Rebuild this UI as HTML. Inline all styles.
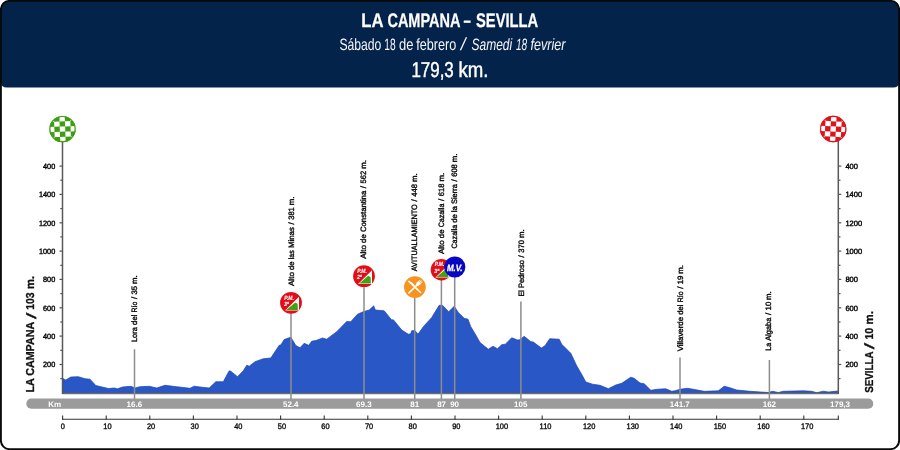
<!DOCTYPE html>
<html lang="es"><head><meta charset="utf-8"><title>La Campana - Sevilla</title>
<style>html,body{margin:0;padding:0;background:#fff}body{width:900px;height:450px;overflow:hidden}svg{display:block}text{font-family:"Liberation Sans",sans-serif;text-rendering:geometricPrecision}</style></head><body>
<svg width="900" height="450" viewBox="0 0 900 450">
<defs>
<clipPath id="cg"><circle cx="0" cy="0" r="13.2"/></clipPath>
</defs>
<rect x="0" y="0" width="900" height="450" fill="#fff"/>
<path d="M1 9 Q1 1 9 1 L891 1 Q899 1 899 9 L899 82.5 Q899 87.6 893 87.6 L7 87.6 Q1 87.6 1 82.5 Z" fill="#04234a"/>
<rect x="0.9" y="0.9" width="898.2" height="448.2" rx="8.5" ry="8.5" fill="none" stroke="#0a0a0a" stroke-width="1.9"/>
<text y="27" font-size="19.6" font-weight="bold" fill="#fff" stroke="#fff" stroke-width="0.25"><tspan x="361.3" textLength="21.6" lengthAdjust="spacingAndGlyphs">LA</tspan> <tspan x="387.4" textLength="72.6" lengthAdjust="spacingAndGlyphs">CAMPANA</tspan> <tspan x="463.6" textLength="7.4" lengthAdjust="spacingAndGlyphs">–</tspan> <tspan x="476.0" textLength="62.2" lengthAdjust="spacingAndGlyphs">SEVILLA</tspan></text>
<text y="50" font-size="16.4" fill="#f4f6fa"><tspan x="339.4" textLength="42.0" lengthAdjust="spacingAndGlyphs">Sábado</tspan> <tspan x="384.2" textLength="11.4" lengthAdjust="spacingAndGlyphs">18</tspan> <tspan x="399.0" textLength="14.4" lengthAdjust="spacingAndGlyphs">de</tspan> <tspan x="416.2" textLength="40.0" lengthAdjust="spacingAndGlyphs">febrero</tspan> <tspan x="460.8" font-size="17.5" font-style="italic">/</tspan> <tspan x="471.6" textLength="40.6" lengthAdjust="spacingAndGlyphs" font-style="italic">Samedi</tspan> <tspan x="516.0" textLength="11.2" lengthAdjust="spacingAndGlyphs" font-style="italic">18</tspan> <tspan x="530.4" textLength="35.0" lengthAdjust="spacingAndGlyphs" font-style="italic">fevrier</tspan></text>
<text y="77" font-size="21.6" fill="#fff" stroke="#fff" stroke-width="0.45"><tspan x="411.4" textLength="42.4" lengthAdjust="spacingAndGlyphs">179,3</tspan> <tspan x="458.4" textLength="30.0" lengthAdjust="spacingAndGlyphs">km.</tspan></text>
<path d="M62.5 393.0 L63.0 378.7 L65.8 380.0 L70.8 377.0 L78.3 376.7 L85.0 378.7 L90.0 379.2 L95.8 385.5 L108.3 388.5 L114.2 388.0 L117.5 388.8 L122.5 387.0 L130.8 386.3 L135.0 388.0 L140.0 386.7 L149.2 386.3 L156.7 388.0 L165.0 385.3 L176.7 386.7 L190.0 388.3 L194.2 386.2 L200.0 387.0 L209.2 388.0 L215.8 381.7 L223.3 381.7 L229.2 370.8 L230.8 371.3 L237.5 376.7 L243.3 370.8 L246.7 365.3 L249.2 366.2 L255.0 361.7 L263.3 358.7 L270.8 358.0 L279.2 345.3 L280.8 345.0 L284.2 339.5 L290.8 337.2 L295.8 345.5 L300.0 347.8 L304.2 343.3 L308.7 345.3 L311.7 341.3 L316.7 340.3 L322.5 338.0 L326.7 339.2 L336.7 331.7 L346.7 321.5 L350.8 321.7 L357.5 314.2 L363.3 311.7 L369.2 310.0 L373.7 305.8 L375.3 310.0 L384.2 310.8 L391.7 320.0 L393.3 319.7 L398.3 325.8 L401.7 330.0 L408.3 334.2 L410.8 333.7 L411.7 330.8 L415.0 330.5 L418.0 334.2 L423.3 326.7 L431.7 317.5 L439.2 305.3 L442.5 305.3 L448.7 311.7 L454.2 306.3 L458.3 312.5 L464.2 318.3 L468.0 319.2 L470.8 326.7 L475.8 335.0 L480.0 342.5 L488.3 349.2 L493.0 346.3 L497.5 348.7 L501.7 344.7 L505.3 344.2 L511.7 337.8 L517.5 340.0 L520.0 339.7 L524.2 336.3 L530.8 341.7 L533.3 342.0 L541.3 348.0 L545.0 345.8 L549.7 338.7 L559.2 339.2 L561.7 344.2 L570.8 353.3 L576.7 365.8 L582.5 375.8 L585.8 382.0 L592.5 384.2 L600.0 385.3 L608.3 388.7 L615.8 385.0 L621.7 383.3 L630.8 377.2 L634.2 378.3 L640.0 383.0 L644.2 383.7 L650.8 390.3 L657.5 389.2 L665.8 388.8 L671.7 391.3 L675.0 390.8 L680.0 389.2 L687.5 388.3 L695.8 389.7 L704.2 391.3 L718.3 390.8 L724.2 386.3 L729.2 387.5 L736.7 390.0 L750.0 391.3 L768.3 392.5 L772.5 391.3 L778.3 392.5 L783.3 391.3 L803.3 390.8 L811.7 391.3 L816.7 392.7 L823.3 391.2 L828.3 392.0 L837.8 391.0 L838.3 393.0 Z" fill="#2a57c6" stroke="#1a40b6" stroke-width="0.7" stroke-linejoin="round"/>
<line x1="62.5" y1="393.5" x2="838.3" y2="393.5" stroke="#6e6e6e" stroke-width="1.4"/>
<line x1="62.5" y1="141" x2="62.5" y2="394" stroke="#585858" stroke-width="1.5"/>
<line x1="838.3" y1="141" x2="838.3" y2="394" stroke="#585858" stroke-width="1.5"/>
<line x1="60.3" y1="378.6" x2="62.5" y2="378.6" stroke="#555" stroke-width="1.2"/>
<line x1="838.3" y1="378.6" x2="840.5" y2="378.6" stroke="#555" stroke-width="1.2"/>
<line x1="59.5" y1="364.5" x2="62.5" y2="364.5" stroke="#555" stroke-width="1.2"/>
<line x1="838.3" y1="364.5" x2="841.3" y2="364.5" stroke="#555" stroke-width="1.2"/>
<text transform="translate(55.2 367.3) scale(0.95 1)" text-anchor="end" font-size="7.7" fill="#050505" stroke="#050505" stroke-width="0.4">200</text>
<text transform="translate(845.4 367.3) scale(0.98 1)" font-size="7.7" fill="#050505" stroke="#050505" stroke-width="0.4">200</text>
<line x1="60.3" y1="350.3" x2="62.5" y2="350.3" stroke="#555" stroke-width="1.2"/>
<line x1="838.3" y1="350.3" x2="840.5" y2="350.3" stroke="#555" stroke-width="1.2"/>
<line x1="59.5" y1="336.1" x2="62.5" y2="336.1" stroke="#555" stroke-width="1.2"/>
<line x1="838.3" y1="336.1" x2="841.3" y2="336.1" stroke="#555" stroke-width="1.2"/>
<text transform="translate(55.2 338.9) scale(0.95 1)" text-anchor="end" font-size="7.7" fill="#050505" stroke="#050505" stroke-width="0.4">400</text>
<text transform="translate(845.4 338.9) scale(0.98 1)" font-size="7.7" fill="#050505" stroke="#050505" stroke-width="0.4">400</text>
<line x1="60.3" y1="322.0" x2="62.5" y2="322.0" stroke="#555" stroke-width="1.2"/>
<line x1="838.3" y1="322.0" x2="840.5" y2="322.0" stroke="#555" stroke-width="1.2"/>
<line x1="59.5" y1="307.8" x2="62.5" y2="307.8" stroke="#555" stroke-width="1.2"/>
<line x1="838.3" y1="307.8" x2="841.3" y2="307.8" stroke="#555" stroke-width="1.2"/>
<text transform="translate(55.2 310.6) scale(0.95 1)" text-anchor="end" font-size="7.7" fill="#050505" stroke="#050505" stroke-width="0.4">600</text>
<text transform="translate(845.4 310.6) scale(0.98 1)" font-size="7.7" fill="#050505" stroke="#050505" stroke-width="0.4">600</text>
<line x1="60.3" y1="293.6" x2="62.5" y2="293.6" stroke="#555" stroke-width="1.2"/>
<line x1="838.3" y1="293.6" x2="840.5" y2="293.6" stroke="#555" stroke-width="1.2"/>
<line x1="59.5" y1="279.4" x2="62.5" y2="279.4" stroke="#555" stroke-width="1.2"/>
<line x1="838.3" y1="279.4" x2="841.3" y2="279.4" stroke="#555" stroke-width="1.2"/>
<text transform="translate(55.2 282.2) scale(0.95 1)" text-anchor="end" font-size="7.7" fill="#050505" stroke="#050505" stroke-width="0.4">800</text>
<text transform="translate(845.4 282.2) scale(0.98 1)" font-size="7.7" fill="#050505" stroke="#050505" stroke-width="0.4">800</text>
<line x1="60.3" y1="265.3" x2="62.5" y2="265.3" stroke="#555" stroke-width="1.2"/>
<line x1="838.3" y1="265.3" x2="840.5" y2="265.3" stroke="#555" stroke-width="1.2"/>
<line x1="59.5" y1="251.1" x2="62.5" y2="251.1" stroke="#555" stroke-width="1.2"/>
<line x1="838.3" y1="251.1" x2="841.3" y2="251.1" stroke="#555" stroke-width="1.2"/>
<text transform="translate(55.2 253.9) scale(0.95 1)" text-anchor="end" font-size="7.7" fill="#050505" stroke="#050505" stroke-width="0.4">1000</text>
<text transform="translate(845.4 253.9) scale(0.98 1)" font-size="7.7" fill="#050505" stroke="#050505" stroke-width="0.4">1000</text>
<line x1="60.3" y1="236.9" x2="62.5" y2="236.9" stroke="#555" stroke-width="1.2"/>
<line x1="838.3" y1="236.9" x2="840.5" y2="236.9" stroke="#555" stroke-width="1.2"/>
<line x1="59.5" y1="222.8" x2="62.5" y2="222.8" stroke="#555" stroke-width="1.2"/>
<line x1="838.3" y1="222.8" x2="841.3" y2="222.8" stroke="#555" stroke-width="1.2"/>
<text transform="translate(55.2 225.6) scale(0.95 1)" text-anchor="end" font-size="7.7" fill="#050505" stroke="#050505" stroke-width="0.4">1200</text>
<text transform="translate(845.4 225.6) scale(0.98 1)" font-size="7.7" fill="#050505" stroke="#050505" stroke-width="0.4">1200</text>
<line x1="60.3" y1="208.6" x2="62.5" y2="208.6" stroke="#555" stroke-width="1.2"/>
<line x1="838.3" y1="208.6" x2="840.5" y2="208.6" stroke="#555" stroke-width="1.2"/>
<line x1="59.5" y1="194.4" x2="62.5" y2="194.4" stroke="#555" stroke-width="1.2"/>
<line x1="838.3" y1="194.4" x2="841.3" y2="194.4" stroke="#555" stroke-width="1.2"/>
<text transform="translate(55.2 197.2) scale(0.95 1)" text-anchor="end" font-size="7.7" fill="#050505" stroke="#050505" stroke-width="0.4">1400</text>
<text transform="translate(845.4 197.2) scale(0.98 1)" font-size="7.7" fill="#050505" stroke="#050505" stroke-width="0.4">1400</text>
<line x1="60.3" y1="180.2" x2="62.5" y2="180.2" stroke="#555" stroke-width="1.2"/>
<line x1="838.3" y1="180.2" x2="840.5" y2="180.2" stroke="#555" stroke-width="1.2"/>
<line x1="59.5" y1="166.1" x2="62.5" y2="166.1" stroke="#555" stroke-width="1.2"/>
<line x1="838.3" y1="166.1" x2="841.3" y2="166.1" stroke="#555" stroke-width="1.2"/>
<text transform="translate(55.2 168.9) scale(0.95 1)" text-anchor="end" font-size="7.7" fill="#050505" stroke="#050505" stroke-width="0.4">400</text>
<text transform="translate(845.4 168.9) scale(0.98 1)" font-size="7.7" fill="#050505" stroke="#050505" stroke-width="0.4">400</text>
<line x1="134.5" y1="349.2" x2="134.5" y2="399.5" stroke="#8c8c8c" stroke-width="1.5"/>
<line x1="291.0" y1="312.0" x2="291.0" y2="399.5" stroke="#8c8c8c" stroke-width="1.5"/>
<line x1="364.0" y1="286.0" x2="364.0" y2="399.5" stroke="#8c8c8c" stroke-width="1.5"/>
<line x1="414.7" y1="296.0" x2="414.7" y2="399.5" stroke="#8c8c8c" stroke-width="1.5"/>
<line x1="441.4" y1="279.0" x2="441.4" y2="399.5" stroke="#8c8c8c" stroke-width="1.5"/>
<line x1="454.7" y1="277.0" x2="454.7" y2="399.5" stroke="#8c8c8c" stroke-width="1.5"/>
<line x1="520.9" y1="301.4" x2="520.9" y2="399.5" stroke="#8c8c8c" stroke-width="1.5"/>
<line x1="680.0" y1="357.5" x2="680.0" y2="399.5" stroke="#8c8c8c" stroke-width="1.5"/>
<line x1="769.4" y1="360.0" x2="769.4" y2="399.5" stroke="#8c8c8c" stroke-width="1.5"/>
<text transform="translate(136.7 342.1) rotate(-90)" font-size="7.8" fill="#050505" stroke="#050505" stroke-width="0.35"><tspan x="0.1" textLength="14.8" lengthAdjust="spacingAndGlyphs">Lora</tspan> <tspan x="17.2" textLength="10.3" lengthAdjust="spacingAndGlyphs">del</tspan> <tspan x="29.7" textLength="10.7" lengthAdjust="spacingAndGlyphs">Río</tspan> <tspan x="43.1">/</tspan> <tspan x="47.6">35</tspan> <tspan x="58.2">m.</tspan></text>
<text transform="translate(293.8 286.1) rotate(-90)" font-size="7.8" fill="#050505" stroke="#050505" stroke-width="0.35"><tspan x="0.1" textLength="13.9" lengthAdjust="spacingAndGlyphs">Alto</tspan> <tspan x="16.0">de</tspan> <tspan x="26.9" textLength="9.0" lengthAdjust="spacingAndGlyphs">las</tspan> <tspan x="38.1" textLength="20.8" lengthAdjust="spacingAndGlyphs">Minas</tspan> <tspan x="61.5">/</tspan> <tspan x="66.3" textLength="12.6" lengthAdjust="spacingAndGlyphs">381</tspan> <tspan x="80.9">m.</tspan></text>
<text transform="translate(366.2 258.9) rotate(-90)" font-size="7.8" fill="#050505" stroke="#050505" stroke-width="0.35"><tspan x="0.1" textLength="13.9" lengthAdjust="spacingAndGlyphs">Alto</tspan> <tspan x="16.0">de</tspan> <tspan x="26.9" textLength="41.2" lengthAdjust="spacingAndGlyphs">Constantina</tspan> <tspan x="70.7">/</tspan> <tspan x="75.5" textLength="12.6" lengthAdjust="spacingAndGlyphs">562</tspan> <tspan x="90.1">m.</tspan></text>
<text transform="translate(416.9 271.3) rotate(-90)" font-size="7.8" fill="#050505" stroke="#050505" stroke-width="0.35"><tspan x="0.1" textLength="67.0" lengthAdjust="spacingAndGlyphs">AVITUALLAMIENTO</tspan> <tspan x="69.7">/</tspan> <tspan x="74.6" textLength="12.6" lengthAdjust="spacingAndGlyphs">448</tspan> <tspan x="89.2">m.</tspan></text>
<text transform="translate(443.6 254.2) rotate(-90)" font-size="7.8" fill="#050505" stroke="#050505" stroke-width="0.35"><tspan x="0.1" textLength="13.9" lengthAdjust="spacingAndGlyphs">Alto</tspan> <tspan x="16.0">de</tspan> <tspan x="26.9" textLength="23.7" lengthAdjust="spacingAndGlyphs">Cazalla</tspan> <tspan x="53.2">/</tspan> <tspan x="58.0" textLength="12.6" lengthAdjust="spacingAndGlyphs">618</tspan> <tspan x="72.6">m.</tspan></text>
<text transform="translate(456.9 248.6) rotate(-90)" font-size="7.8" fill="#050505" stroke="#050505" stroke-width="0.35"><tspan x="0.1" textLength="23.7" lengthAdjust="spacingAndGlyphs">Cazalla</tspan> <tspan x="25.8">de</tspan> <tspan x="36.4">la</tspan> <tspan x="44.6" textLength="19.8" lengthAdjust="spacingAndGlyphs">Sierra</tspan> <tspan x="67.0">/</tspan> <tspan x="71.8" textLength="12.6" lengthAdjust="spacingAndGlyphs">608</tspan> <tspan x="86.4">m.</tspan></text>
<text transform="translate(523.7 296.3) rotate(-90)" font-size="7.8" fill="#050505" stroke="#050505" stroke-width="0.35"><tspan x="-0.2" textLength="6.4" lengthAdjust="spacingAndGlyphs">El</tspan> <tspan x="8.2" textLength="28.0" lengthAdjust="spacingAndGlyphs">Pedroso</tspan> <tspan x="38.8">/</tspan> <tspan x="43.6" textLength="12.6" lengthAdjust="spacingAndGlyphs">370</tspan> <tspan x="58.2">m.</tspan></text>
<text transform="translate(683.1 351.3) rotate(-90)" font-size="7.8" fill="#050505" stroke="#050505" stroke-width="0.35"><tspan x="0.1" textLength="34.2" lengthAdjust="spacingAndGlyphs">Villaverde</tspan> <tspan x="36.5" textLength="10.3" lengthAdjust="spacingAndGlyphs">del</tspan> <tspan x="49.1" textLength="10.7" lengthAdjust="spacingAndGlyphs">Río</tspan> <tspan x="62.5">/</tspan> <tspan x="67.0">19</tspan> <tspan x="77.6">m.</tspan></text>
<text transform="translate(771.1 350.5) rotate(-90)" font-size="7.8" fill="#050505" stroke="#050505" stroke-width="0.35"><tspan x="-0.2" textLength="7.9" lengthAdjust="spacingAndGlyphs">La</tspan> <tspan x="9.7" textLength="23.2" lengthAdjust="spacingAndGlyphs">Algaba</tspan> <tspan x="35.5">/</tspan> <tspan x="40.1">10</tspan> <tspan x="50.6">m.</tspan></text>
<rect x="26.3" y="398.6" width="847" height="10.1" rx="5.05" fill="#9b9b9b"/>
<text x="54.6" y="406.5" text-anchor="middle" font-size="8" font-weight="bold" fill="#fff">Km</text>
<text x="134.4" y="406.5" text-anchor="middle" font-size="8" font-weight="bold" fill="#fff">16.6</text>
<text x="290.8" y="406.5" text-anchor="middle" font-size="8" font-weight="bold" fill="#fff">52.4</text>
<text x="363.9" y="406.5" text-anchor="middle" font-size="8" font-weight="bold" fill="#fff">69.3</text>
<text x="414.7" y="406.5" text-anchor="middle" font-size="8" font-weight="bold" fill="#fff">81</text>
<text x="441.6" y="406.5" text-anchor="middle" font-size="8" font-weight="bold" fill="#fff">87</text>
<text x="454.6" y="406.5" text-anchor="middle" font-size="8" font-weight="bold" fill="#fff">90</text>
<text x="520.8" y="406.5" text-anchor="middle" font-size="8" font-weight="bold" fill="#fff">105</text>
<text x="679.8" y="406.5" text-anchor="middle" font-size="8" font-weight="bold" fill="#fff">141.7</text>
<text x="769.4" y="406.5" text-anchor="middle" font-size="8" font-weight="bold" fill="#fff">162</text>
<text x="840.0" y="406.5" text-anchor="middle" font-size="8" font-weight="bold" fill="#fff">179,3</text>
<line x1="62.1" y1="419.3" x2="838.9" y2="419.3" stroke="#333" stroke-width="1.1"/>
<line x1="62.6" y1="415.4" x2="62.6" y2="419.8" stroke="#333" stroke-width="1.1"/>
<text transform="translate(62.8 428.8) scale(0.93 1)" text-anchor="middle" font-size="8" fill="#0a0a0a" stroke="#0a0a0a" stroke-width="0.35">0</text>
<line x1="106.2" y1="415.4" x2="106.2" y2="419.8" stroke="#333" stroke-width="1.1"/>
<text transform="translate(107.5 428.8) scale(0.93 1)" text-anchor="middle" font-size="8" fill="#0a0a0a" stroke="#0a0a0a" stroke-width="0.35">10</text>
<line x1="149.8" y1="415.4" x2="149.8" y2="419.8" stroke="#333" stroke-width="1.1"/>
<text transform="translate(151.1 428.8) scale(0.93 1)" text-anchor="middle" font-size="8" fill="#0a0a0a" stroke="#0a0a0a" stroke-width="0.35">20</text>
<line x1="193.4" y1="415.4" x2="193.4" y2="419.8" stroke="#333" stroke-width="1.1"/>
<text transform="translate(194.7 428.8) scale(0.93 1)" text-anchor="middle" font-size="8" fill="#0a0a0a" stroke="#0a0a0a" stroke-width="0.35">30</text>
<line x1="237.0" y1="415.4" x2="237.0" y2="419.8" stroke="#333" stroke-width="1.1"/>
<text transform="translate(238.3 428.8) scale(0.93 1)" text-anchor="middle" font-size="8" fill="#0a0a0a" stroke="#0a0a0a" stroke-width="0.35">40</text>
<line x1="280.6" y1="415.4" x2="280.6" y2="419.8" stroke="#333" stroke-width="1.1"/>
<text transform="translate(281.9 428.8) scale(0.93 1)" text-anchor="middle" font-size="8" fill="#0a0a0a" stroke="#0a0a0a" stroke-width="0.35">50</text>
<line x1="324.2" y1="415.4" x2="324.2" y2="419.8" stroke="#333" stroke-width="1.1"/>
<text transform="translate(325.5 428.8) scale(0.93 1)" text-anchor="middle" font-size="8" fill="#0a0a0a" stroke="#0a0a0a" stroke-width="0.35">60</text>
<line x1="367.8" y1="415.4" x2="367.8" y2="419.8" stroke="#333" stroke-width="1.1"/>
<text transform="translate(369.1 428.8) scale(0.93 1)" text-anchor="middle" font-size="8" fill="#0a0a0a" stroke="#0a0a0a" stroke-width="0.35">70</text>
<line x1="411.4" y1="415.4" x2="411.4" y2="419.8" stroke="#333" stroke-width="1.1"/>
<text transform="translate(412.7 428.8) scale(0.93 1)" text-anchor="middle" font-size="8" fill="#0a0a0a" stroke="#0a0a0a" stroke-width="0.35">80</text>
<line x1="455.0" y1="415.4" x2="455.0" y2="419.8" stroke="#333" stroke-width="1.1"/>
<text transform="translate(456.3 428.8) scale(0.93 1)" text-anchor="middle" font-size="8" fill="#0a0a0a" stroke="#0a0a0a" stroke-width="0.35">90</text>
<line x1="498.6" y1="415.4" x2="498.6" y2="419.8" stroke="#333" stroke-width="1.1"/>
<text transform="translate(501.9 428.8) scale(0.93 1)" text-anchor="middle" font-size="8" fill="#0a0a0a" stroke="#0a0a0a" stroke-width="0.35">100</text>
<line x1="542.2" y1="415.4" x2="542.2" y2="419.8" stroke="#333" stroke-width="1.1"/>
<text transform="translate(545.5 428.8) scale(0.93 1)" text-anchor="middle" font-size="8" fill="#0a0a0a" stroke="#0a0a0a" stroke-width="0.35">110</text>
<line x1="585.8" y1="415.4" x2="585.8" y2="419.8" stroke="#333" stroke-width="1.1"/>
<text transform="translate(589.1 428.8) scale(0.93 1)" text-anchor="middle" font-size="8" fill="#0a0a0a" stroke="#0a0a0a" stroke-width="0.35">120</text>
<line x1="629.4" y1="415.4" x2="629.4" y2="419.8" stroke="#333" stroke-width="1.1"/>
<text transform="translate(632.7 428.8) scale(0.93 1)" text-anchor="middle" font-size="8" fill="#0a0a0a" stroke="#0a0a0a" stroke-width="0.35">130</text>
<line x1="673.0" y1="415.4" x2="673.0" y2="419.8" stroke="#333" stroke-width="1.1"/>
<text transform="translate(676.3 428.8) scale(0.93 1)" text-anchor="middle" font-size="8" fill="#0a0a0a" stroke="#0a0a0a" stroke-width="0.35">140</text>
<line x1="716.6" y1="415.4" x2="716.6" y2="419.8" stroke="#333" stroke-width="1.1"/>
<text transform="translate(719.9 428.8) scale(0.93 1)" text-anchor="middle" font-size="8" fill="#0a0a0a" stroke="#0a0a0a" stroke-width="0.35">150</text>
<line x1="760.2" y1="415.4" x2="760.2" y2="419.8" stroke="#333" stroke-width="1.1"/>
<text transform="translate(763.5 428.8) scale(0.93 1)" text-anchor="middle" font-size="8" fill="#0a0a0a" stroke="#0a0a0a" stroke-width="0.35">160</text>
<line x1="803.8" y1="415.4" x2="803.8" y2="419.8" stroke="#333" stroke-width="1.1"/>
<text transform="translate(807.1 428.8) scale(0.93 1)" text-anchor="middle" font-size="8" fill="#0a0a0a" stroke="#0a0a0a" stroke-width="0.35">170</text>
<line x1="838.3" y1="415.4" x2="838.3" y2="419.8" stroke="#333" stroke-width="1.1"/>
<g transform="translate(34.3 392.5) rotate(-90)" font-size="11.5" font-weight="bold" fill="#111" stroke="#111" stroke-width="0.3"><text x="0" y="0" textLength="70.6" lengthAdjust="spacingAndGlyphs">LA CAMPANA</text> <text x="73.5" y="1.2" font-size="13.5" font-weight="normal" stroke-width="0.35" textLength="6.3" lengthAdjust="spacingAndGlyphs">/</text> <text x="82.7" y="0" textLength="17.4" lengthAdjust="spacingAndGlyphs">103</text> <text x="103.5" y="0" textLength="13" lengthAdjust="spacingAndGlyphs">m.</text></g>
<g transform="translate(873.2 392.8) rotate(-90)" font-size="11.5" font-weight="bold" fill="#111" stroke="#111" stroke-width="0.3"><text x="0" y="0" textLength="41.3" lengthAdjust="spacingAndGlyphs">SEVILLA</text> <text x="43.6" y="1.2" font-size="13.5" font-weight="normal" stroke-width="0.35" textLength="6.3" lengthAdjust="spacingAndGlyphs">/</text> <text x="53.2" y="0" textLength="11.8" lengthAdjust="spacingAndGlyphs">10</text> <text x="68.4" y="0" textLength="13.3" lengthAdjust="spacingAndGlyphs">m.</text></g>
<g transform="translate(62.5 129.1)"><circle r="13.2" fill="#3e9e11"/><g clip-path="url(#cg)"><g transform="rotate(-2)"><rect x="-18.90" y="-18.03" width="5.40" height="5.15" fill="#fff"/><rect x="-18.90" y="-7.73" width="5.40" height="5.15" fill="#fff"/><rect x="-18.90" y="2.58" width="5.40" height="5.15" fill="#fff"/><rect x="-18.90" y="12.88" width="5.40" height="5.15" fill="#fff"/><rect x="-13.50" y="-12.88" width="5.40" height="5.15" fill="#fff"/><rect x="-13.50" y="-2.58" width="5.40" height="5.15" fill="#fff"/><rect x="-13.50" y="7.73" width="5.40" height="5.15" fill="#fff"/><rect x="-8.10" y="-18.03" width="5.40" height="5.15" fill="#fff"/><rect x="-8.10" y="-7.73" width="5.40" height="5.15" fill="#fff"/><rect x="-8.10" y="2.58" width="5.40" height="5.15" fill="#fff"/><rect x="-8.10" y="12.88" width="5.40" height="5.15" fill="#fff"/><rect x="-2.70" y="-12.88" width="5.40" height="5.15" fill="#fff"/><rect x="-2.70" y="-2.58" width="5.40" height="5.15" fill="#fff"/><rect x="-2.70" y="7.73" width="5.40" height="5.15" fill="#fff"/><rect x="2.70" y="-18.03" width="5.40" height="5.15" fill="#fff"/><rect x="2.70" y="-7.73" width="5.40" height="5.15" fill="#fff"/><rect x="2.70" y="2.58" width="5.40" height="5.15" fill="#fff"/><rect x="2.70" y="12.88" width="5.40" height="5.15" fill="#fff"/><rect x="8.10" y="-12.88" width="5.40" height="5.15" fill="#fff"/><rect x="8.10" y="-2.58" width="5.40" height="5.15" fill="#fff"/><rect x="8.10" y="7.73" width="5.40" height="5.15" fill="#fff"/><rect x="13.50" y="-18.03" width="5.40" height="5.15" fill="#fff"/><rect x="13.50" y="-7.73" width="5.40" height="5.15" fill="#fff"/><rect x="13.50" y="2.58" width="5.40" height="5.15" fill="#fff"/><rect x="13.50" y="12.88" width="5.40" height="5.15" fill="#fff"/></g></g><circle r="12.6" fill="none" stroke="#3e9e11" stroke-width="1.2"/></g>
<g transform="translate(833.2 129.0)"><circle r="13.2" fill="#e0131b"/><g clip-path="url(#cg)"><g transform="rotate(3)"><rect x="-18.90" y="-18.03" width="5.40" height="5.15" fill="#fff"/><rect x="-18.90" y="-7.73" width="5.40" height="5.15" fill="#fff"/><rect x="-18.90" y="2.58" width="5.40" height="5.15" fill="#fff"/><rect x="-18.90" y="12.88" width="5.40" height="5.15" fill="#fff"/><rect x="-13.50" y="-12.88" width="5.40" height="5.15" fill="#fff"/><rect x="-13.50" y="-2.58" width="5.40" height="5.15" fill="#fff"/><rect x="-13.50" y="7.73" width="5.40" height="5.15" fill="#fff"/><rect x="-8.10" y="-18.03" width="5.40" height="5.15" fill="#fff"/><rect x="-8.10" y="-7.73" width="5.40" height="5.15" fill="#fff"/><rect x="-8.10" y="2.58" width="5.40" height="5.15" fill="#fff"/><rect x="-8.10" y="12.88" width="5.40" height="5.15" fill="#fff"/><rect x="-2.70" y="-12.88" width="5.40" height="5.15" fill="#fff"/><rect x="-2.70" y="-2.58" width="5.40" height="5.15" fill="#fff"/><rect x="-2.70" y="7.73" width="5.40" height="5.15" fill="#fff"/><rect x="2.70" y="-18.03" width="5.40" height="5.15" fill="#fff"/><rect x="2.70" y="-7.73" width="5.40" height="5.15" fill="#fff"/><rect x="2.70" y="2.58" width="5.40" height="5.15" fill="#fff"/><rect x="2.70" y="12.88" width="5.40" height="5.15" fill="#fff"/><rect x="8.10" y="-12.88" width="5.40" height="5.15" fill="#fff"/><rect x="8.10" y="-2.58" width="5.40" height="5.15" fill="#fff"/><rect x="8.10" y="7.73" width="5.40" height="5.15" fill="#fff"/><rect x="13.50" y="-18.03" width="5.40" height="5.15" fill="#fff"/><rect x="13.50" y="-7.73" width="5.40" height="5.15" fill="#fff"/><rect x="13.50" y="2.58" width="5.40" height="5.15" fill="#fff"/><rect x="13.50" y="12.88" width="5.40" height="5.15" fill="#fff"/></g></g><circle r="12.6" fill="none" stroke="#e0131b" stroke-width="1.2"/></g>
<g transform="translate(291.0 302.8)"><circle r="10.9" fill="#e30d18"/><path d="M-5.9 7.7 L8 -6 L8 7.8 Z" fill="#fff"/><path d="M-4.8 7.3 L4.2 -0.4 L6.6 1 L6.9 7.3 Z" fill="#41a313"/><text x="-6.7" y="-2.80" font-size="6.2" font-weight="bold" font-style="italic" fill="#fff" stroke="#fff" stroke-width="0.12" textLength="9.6" lengthAdjust="spacingAndGlyphs">P.M.</text> <text x="-7.1" y="3.20" font-size="6.1" font-weight="bold" font-style="italic" fill="#fff" stroke="#fff" stroke-width="0.12" textLength="4.9" lengthAdjust="spacingAndGlyphs">3ª</text></g>
<g transform="translate(364.0 276.2)"><circle r="10.9" fill="#e30d18"/><path d="M-5.9 7.7 L8 -6 L8 7.8 Z" fill="#fff"/><path d="M-4.8 7.3 L4.2 -0.4 L6.6 1 L6.9 7.3 Z" fill="#41a313"/><text x="-6.7" y="-3.20" font-size="6.2" font-weight="bold" font-style="italic" fill="#fff" stroke="#fff" stroke-width="0.12" textLength="9.6" lengthAdjust="spacingAndGlyphs">P.M.</text> <text x="-7.1" y="2.80" font-size="6.1" font-weight="bold" font-style="italic" fill="#fff" stroke="#fff" stroke-width="0.12" textLength="4.9" lengthAdjust="spacingAndGlyphs">2ª</text></g>
<g transform="translate(414.9 287.1)"><circle r="10.9" fill="#f7931e"/><g fill="#fff" stroke="none"><g transform="rotate(44)"><path d="M-9.3 0.9 L-9 -0.6 Q-5 -1.9 -0.5 -0.9 L8.2 -0.75 Q9 0 8.2 0.75 L-1 0.9 Z"/></g><g transform="rotate(-44)"><path d="M-9 -0.75 L1.6 -0.75 Q3.4 -2 5.2 -1.9 L9 -1.7 L9 -1.0 L6.4 -0.95 L6.4 -0.4 L9.2 -0.4 L9.2 0.4 L6.4 0.4 L6.4 0.95 L9 1.0 L9 1.7 L5.2 1.9 Q3.4 2 1.6 0.75 L-9 0.75 Q-9.7 0 -9 -0.75 Z"/></g></g></g>
<g transform="translate(441.4 269.7)"><circle r="10.7" fill="#e30d18"/><path d="M-5.9 7.7 L8 -6 L8 7.8 Z" fill="#fff"/><path d="M-4.8 7.3 L4.2 -0.4 L6.6 1 L6.9 7.3 Z" fill="#41a313"/><text x="-6.7" y="-3.70" font-size="6.2" font-weight="bold" font-style="italic" fill="#fff" stroke="#fff" stroke-width="0.12" textLength="9.6" lengthAdjust="spacingAndGlyphs">P.M.</text> <text x="-7.1" y="3.30" font-size="6.1" font-weight="bold" font-style="italic" fill="#fff" stroke="#fff" stroke-width="0.12" textLength="4.9" lengthAdjust="spacingAndGlyphs">3ª</text></g>
<g transform="translate(454.8 267.0)"><circle r="10.6" fill="#0808c4"/><text x="-0.1" y="3.9" text-anchor="middle" font-size="9.2" font-weight="bold" font-style="italic" fill="#fff" stroke="#fff" stroke-width="0.3" textLength="15.6" lengthAdjust="spacingAndGlyphs">M.V.</text></g>
</svg></body></html>
